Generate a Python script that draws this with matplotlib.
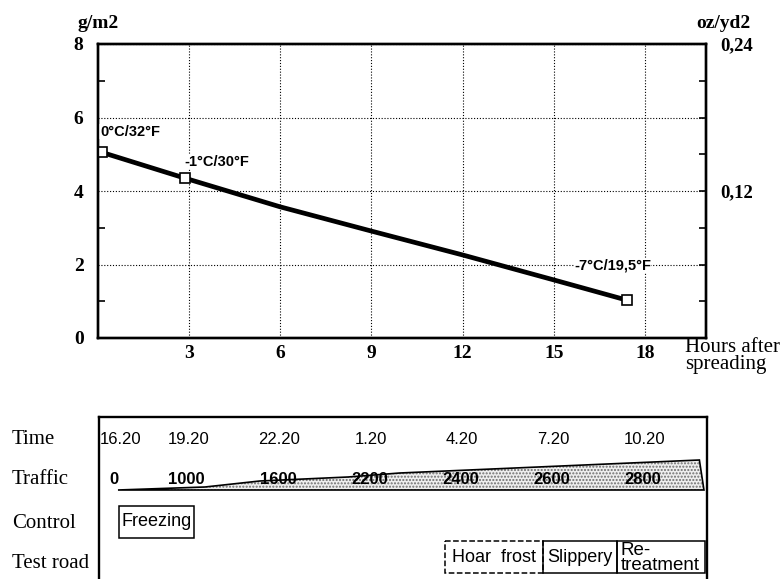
import matplotlib
matplotlib.use('Agg')
import matplotlib.pyplot as plt
import matplotlib.transforms as mtransforms
from matplotlib.patches import Rectangle, Polygon
from matplotlib.ticker import FixedLocator, MultipleLocator, FuncFormatter

# salt remaining on the road vs hours after spreading
hours = [0.15, 2.87, 6.0, 9.0, 12.0, 15.0, 17.4]
salt_gm2 = [5.05, 4.35, 3.57, 2.91, 2.26, 1.58, 1.03]
temp_idx = [0, 1, 6]
temp_labels = ['0°C/32°F', '-1°C/30°F', '-7°C/19,5°F']
temp_label_xy = [(0.08, 5.61), (2.84, 4.80), (15.66, 1.97)]

# timeline under the chart
time_labels = ['16.20', '19.20', '22.20', '1.20', '4.20', '7.20', '10.20']
time_hours = [0, 3, 6, 9, 12, 15, 18]
traffic = [0, 1000, 1600, 2200, 2400, 2600, 2800]
band_hours = [0.64, 3.5, 5.3, 8.2, 9.9, 19.75]
band_width = [0, 3, 9, 13, 17, 30]
control_events = [('Freezing', 0.67, 3.13, 'solid')]
road_events = [('Hoar  frost', 11.39, 14.6, 'dashed'),
               ('Slippery', 14.6, 17.03, 'solid'),
               ('Re-\ntreatment', 17.03, 19.92, 'solid')]

SERIF = 'Liberation Serif'
SANS = 'Liberation Sans'

fig = plt.figure(figsize=(7.84, 5.79), dpi=100)

# ---- top chart ----
ax = fig.add_axes([97.5 / 784, 241 / 579, 608.5 / 784, 294 / 579])
ax.plot(hours, salt_gm2, color='black', lw=3.4, solid_capstyle='butt', zorder=3)
ax.plot([hours[i] for i in temp_idx], [salt_gm2[i] for i in temp_idx], 's',
        ms=6.5, mfc='white', mec='black', mew=1.2, zorder=4)
for (tx, ty), lab in zip(temp_label_xy, temp_labels):
    ax.text(tx, ty, lab, family=SANS, fontsize=10.5, fontweight='bold',
            ha='left', va='center', zorder=5,
            bbox=dict(facecolor='white', edgecolor='none', pad=0.3))

ax.set_xlim(0, 20)
ax.set_ylim(0, 8)
ax.xaxis.set_major_locator(FixedLocator([3, 6, 9, 12, 15, 18]))
ax.yaxis.set_major_locator(FixedLocator([0, 2, 4, 6, 8]))
ax.yaxis.set_minor_locator(FixedLocator([1, 3, 5, 7]))
ax.grid(True, color='black', lw=0.8, linestyle=(0, (1, 1.6)))
ax.tick_params(axis='x', length=0, pad=5)
ax.tick_params(axis='y', which='major', length=0, pad=10)
ax.tick_params(axis='y', which='minor', direction='in', length=5, width=1.2)
for lab in ax.get_xticklabels() + ax.get_yticklabels():
    lab.set_family(SERIF)
    lab.set_fontweight('bold')
    lab.set_fontsize(14)
for s in ax.spines.values():
    s.set_linewidth(1.7)

ax2 = ax.twinx()
ax2.set_ylim(0, 0.24)
ax2.yaxis.set_major_locator(FixedLocator([0.12, 0.24]))
ax2.yaxis.set_minor_locator(MultipleLocator(0.03))
ax2.yaxis.set_major_formatter(FuncFormatter(lambda v, p: f'{v:.2f}'.replace('.', ',')))
ax2.tick_params(axis='y', which='both', direction='in', length=5, width=1.2, pad=10)
for lab in ax2.get_yticklabels():
    lab.set_family(SERIF)
    lab.set_fontweight('bold')
    lab.set_fontsize(13.5)
for s in ax2.spines.values():
    s.set_linewidth(1.7)

fig.text(77 / 784, 1 - 23 / 579, 'g/m2', family=SERIF, fontweight='bold',
         fontsize=14, ha='left', va='center')
fig.text(696 / 784, 1 - 23 / 579, 'oz/yd2', family=SERIF, fontweight='bold',
         fontsize=14, ha='left', va='center')
fig.text(685 / 784, 1 - 338 / 579, 'Hours after\nspreading', family=SERIF,
         fontsize=15, ha='left', va='top', linespacing=0.87)

# ---- timeline panel ----
bx = fig.add_axes([98.5 / 784, -3 / 579, 608.5 / 784, 165 / 579])
bx.set_xlim(0, 20)
bx.set_ylim(165, 0)
bx.set_xticks([])
bx.set_yticks([])
for s in bx.spines.values():
    s.set_linewidth(1.7)

row_y = {'Time': 22, 'Traffic': 62, 'Control': 106, 'Test road': 147}
lab_tr = mtransforms.blended_transform_factory(fig.transFigure, bx.transData)
for name, yy in row_y.items():
    bx.text(12 / 784, yy, name, transform=lab_tr, family=SERIF, fontsize=15,
            ha='left', va='center', clip_on=False)

for i, (h, t) in enumerate(zip(time_hours, time_labels)):
    if i == 0:
        bx.text(h + 0.05, row_y['Time'], t, family=SANS, fontsize=12,
                ha='left', va='center')
    else:
        bx.text(h - 0.05, row_y['Time'], t, family=SANS, fontsize=12,
                ha='center', va='center')

# traffic wedge, widening with the hours
base = 73
top_pts = [(h, base - w) for h, w in zip(band_hours, band_width)]
shape = top_pts + [(19.9, base), (band_hours[0], base)]
bx.add_patch(Polygon(shape, closed=True, facecolor='#efefef', edgecolor='#6e6e6e',
                     hatch='.....', lw=0, zorder=1))
bx.add_patch(Polygon(shape, closed=True, facecolor='none', edgecolor='black',
                     lw=1.2, zorder=3))

for i, (h, n) in enumerate(zip(time_hours, traffic)):
    if i == 0:
        bx.text(h + 0.36, row_y['Traffic'], str(n), family=SANS, fontsize=12,
                fontweight='bold', ha='left', va='center', zorder=2)
    else:
        bx.text(h - 0.1, row_y['Traffic'], str(n), family=SANS, fontsize=12,
                fontweight='bold', ha='center', va='center', zorder=2)

row_boxes = [(control_events, 89, 121), (road_events, 124, 156)]
for events, y0, y1 in row_boxes:
    for label, h0, h1, ls in events:
        bx.add_patch(Rectangle((h0, y0), h1 - h0, y1 - y0, facecolor='none',
                               edgecolor='black', lw=1.1, linestyle=ls))
        if '\n' in label:
            bx.text(h0 + 0.12, (y0 + y1) / 2 + 1, label, family=SANS, fontsize=13.5,
                    ha='left', va='center', linespacing=0.78)
        else:
            bx.text((h0 + h1) / 2, (y0 + y1) / 2, label, family=SANS, fontsize=13,
                    ha='center', va='center')

fig.savefig('out.png', dpi=100)
